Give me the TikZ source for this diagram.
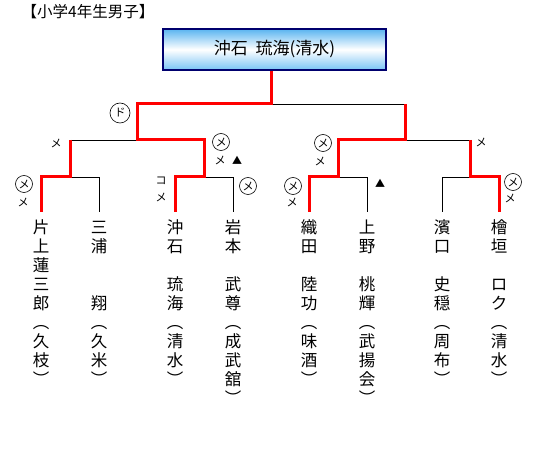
\documentclass[tikz,border=0pt]{standalone}
\usepackage{fontspec}
\setmainfont{Noto Sans CJK JP}
\definecolor{boxtop}{RGB}{90,180,240}
\definecolor{boxbot}{RGB}{120,195,245}
\definecolor{boxline}{RGB}{0,0,110}

\begin{document}
\begin{tikzpicture}[x=1pt,y=-1pt,
    redline/.style={red,line width=3pt},
    thinline/.style={black,line width=0.8pt},
    namechar/.style={inner sep=0pt,text height=0.88em,text depth=0.12em,font=\fontsize{16.5}{16.5}\selectfont},
    mk/.style={inner sep=0pt,font=\fontsize{11}{11}\selectfont},
    cmk/.style={circle,draw,line width=0.6pt,inner sep=0pt,minimum size=17pt,font=\fontsize{11}{11}\selectfont}]
  \useasboundingbox (0,0) rectangle (541,457);

  \node[font=\fontsize{15.5}{15.5}\selectfont] (title) at (88,12) {【小学4年生男子】};
  \node[draw=boxline,line width=1.2pt,top color=boxtop,bottom color=boxbot,middle color=white,
        minimum width=223pt,minimum height=41pt,font=\fontsize{17}{17}\selectfont]
        (winner) at (274.5,49.5) {沖石\hspace{0.45em}琉海(清水)};

  \coordinate (w) at (271,104);
  \coordinate (f1) at (137,104);
  \coordinate (f2) at (405,104);
  \coordinate (t1) at (137,140);
  \coordinate (t2) at (405,140);
  \foreach \n/\x in {1/70,2/204,3/338,4/470}{
      \coordinate (s\n) at (\x,140);
      \coordinate (m\n) at (\x,177);
    }
  \foreach \n/\x in {1/41,2/99,3/175,4/233,5/309,6/367,7/442,8/499}{
      \coordinate (q\n) at (\x,177);
      \coordinate (p\n) at (\x,212);
    }

  % losers
  \draw[thinline] (w) -- (f2);
  \draw[thinline] (s1) -- (t1);
  \draw[thinline] (t2) -- (s4);
  \draw[thinline] (m1) -- (q2) -- (p2);
  \draw[thinline] (m2) -- (q4) -- (p4);
  \draw[thinline] (m3) -- (q6) -- (p6);
  \draw[thinline] (m4) -- (q7) -- (p7);

  % winners
  \draw[redline] (winner.south -| w) -- (w) -- (f1) -- (t1) -- (s2) -- (m2) -- (q3) -- (p3);
  \draw[redline] (f2) -- (t2) -- (s3) -- (m3) -- (q5) -- (p5);
  \draw[redline] (s1) -- (m1) -- (q1) -- (p1);
  \draw[redline] (s4) -- (m4) -- (q8) -- (p8);

  % names, written top to bottom
  \foreach \x/\chars [count=\j] in {
      41/{片,上,蓮,三,郎,︵,久,枝,︶},
      99/{三,浦,　,　,翔,︵,久,米,︶},
      175/{沖,石,　,琉,海,︵,清,水,︶},
      233/{岩,本,　,武,尊,︵,成,武,舘,︶},
      309/{織,田,　,陸,功,︵,味,酒,︶},
      367/{上,野,　,桃,輝,︵,武,揚,会,︶},
      442/{濱,口,　,史,穏,︵,周,布,︶},
      499/{檜,垣,　,ロ,ク,︵,清,水,︶}}{
      \foreach \c [count=\i] in \chars{
          \node[namechar] (n\j-\i) at (\x,211+19*\i) {\c};
        }
    }

  \node[cmk,minimum size=20pt] (d1) at (120,113) {ド};
  \node[mk] (k1) at (56,143) {メ};
  \node[cmk] (k2) at (221,142) {メ};
  \node[mk] (k3) at (220,160) {メ};
  \node[mk,font=\fontsize{10}{10}\selectfont] (a1) at (237,160) {▲};
  \node[cmk] (k4) at (24,184) {メ};
  \node[mk] (k5) at (23,202) {メ};
  \node[mk] (k6) at (161,181) {コ};
  \node[mk] (k7) at (161,197) {メ};
  \node[cmk] (k8) at (248,186) {メ};
  \node[cmk] (k9) at (323,143) {メ};
  \node[mk] (k10) at (320,161) {メ};
  \node[mk] (k11) at (481,142) {メ};
  \node[cmk] (k12) at (293,186) {メ};
  \node[mk] (k13) at (292,202) {メ};
  \node[mk,font=\fontsize{10}{10}\selectfont] (a2) at (380,183) {▲};
  \node[cmk] (k14) at (513,182) {メ};
  \node[mk] (k15) at (510,198) {メ};
\end{tikzpicture}
\end{document}
